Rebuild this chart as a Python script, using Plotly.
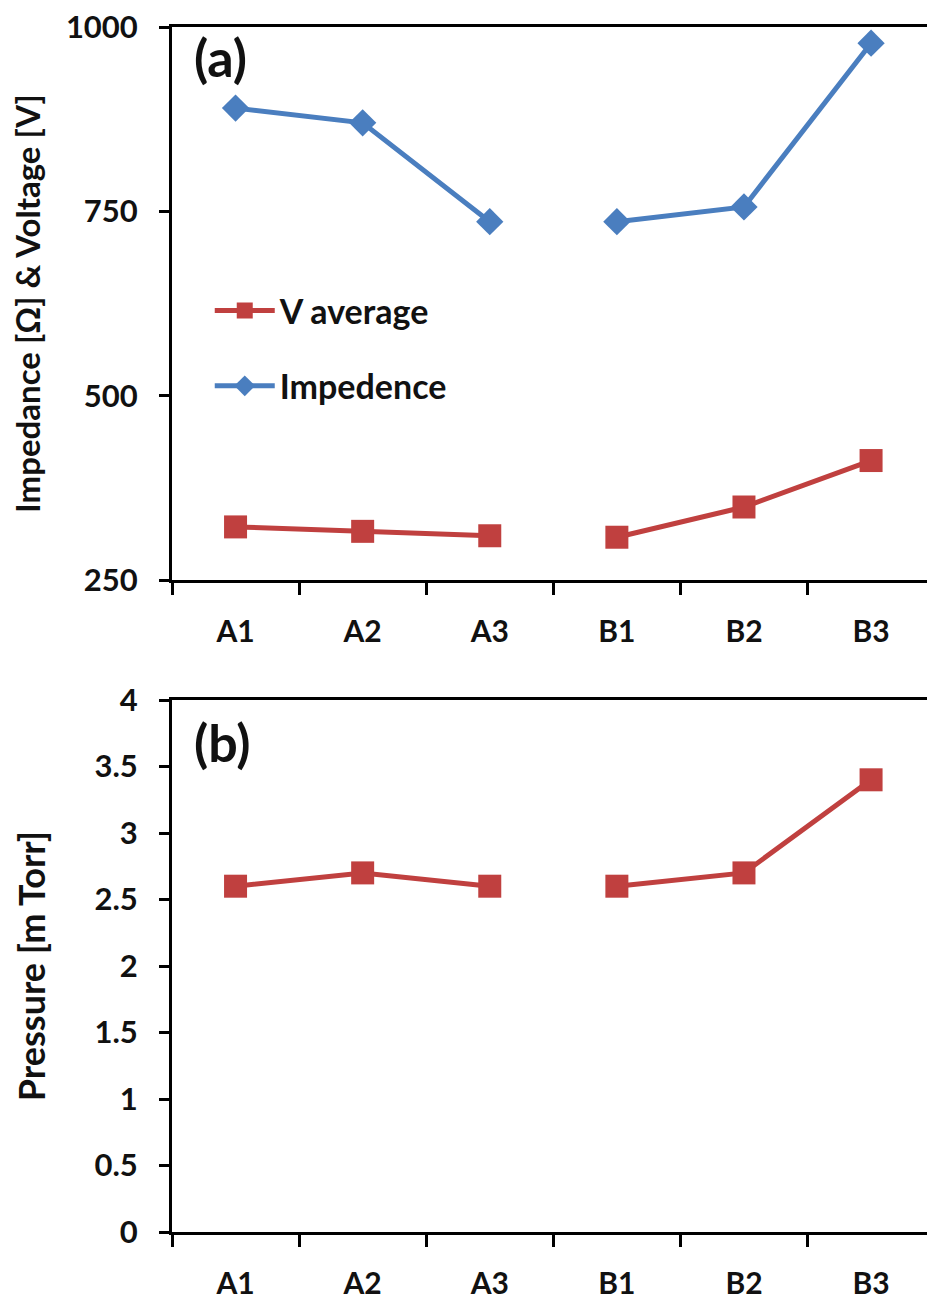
import plotly.graph_objects as go
from plotly.subplots import make_subplots

categories = ["A1", "A2", "A3", "B1", "B2", "B3"]
impedance = [890, 870, 736, 736, 756, 978]
v_average = [322, 316, 310, 308, 349, 412]
pressure = [2.6, 2.7, 2.6, 2.6, 2.7, 3.4]
groups = [slice(0, 3), slice(3, 6)]

RED = "#C0403F"
BLUE = "#4A7EBF"
FONT = "Lato"
INK = "#111111"

fig = make_subplots(rows=2, cols=1, vertical_spacing=0.0)

for gi, g in enumerate(groups):
    fig.add_trace(go.Scatter(
        x=categories[g], y=v_average[g], mode="lines+markers", name="V average",
        legendgroup="v", showlegend=(gi == 0),
        line=dict(color=RED, width=5),
        marker=dict(symbol="square", size=23, color=RED)), row=1, col=1)
for gi, g in enumerate(groups):
    fig.add_trace(go.Scatter(
        x=categories[g], y=impedance[g], mode="lines+markers", name="Impedence",
        legendgroup="i", showlegend=(gi == 0),
        line=dict(color=BLUE, width=5),
        marker=dict(symbol="diamond", size=21, color=BLUE)), row=1, col=1)
for gi, g in enumerate(groups):
    fig.add_trace(go.Scatter(
        x=categories[g], y=pressure[g], mode="lines+markers", name="Pressure",
        showlegend=False,
        line=dict(color=RED, width=5),
        marker=dict(symbol="square", size=23, color=RED)), row=2, col=1)

H = 1300.0
top_dom = [1 - 580 / H, 1 - 27 / H]
bot_dom = [1 - 1232 / H, 1 - 700 / H]

tickfont = dict(family=FONT, size=31, color=INK, weight="bold")
xtickfont = dict(family=FONT, size=30, color=INK, weight="bold")
xcommon = dict(type="category", categoryorder="array", categoryarray=categories,
               range=[-0.5, 5.44], tickson="boundaries", ticks="outside",
               ticklen=12, tickwidth=3, tickcolor="black", showline=True,
               linewidth=3, linecolor="black", mirror=True, showgrid=False,
               tickfont=xtickfont, ticklabelstandoff=23, zeroline=False,
               automargin=False)
ycommon = dict(ticks="outside", ticklen=10, tickwidth=3, tickcolor="black",
               showline=True, linewidth=3, linecolor="black", showgrid=False,
               zeroline=False, tickfont=tickfont, ticklabelstandoff=15,
               automargin=False)

fig.update_xaxes(**xcommon)
fig.update_yaxes(**ycommon)
fig.update_layout(
    xaxis=dict(domain=[0, 1], anchor="y"),
    xaxis2=dict(domain=[0, 1], anchor="y2"),
    yaxis=dict(domain=top_dom, range=[250, 1000], tickvals=[250, 500, 750, 1000],
               title=dict(text="Impedance [Ω] & Voltage [V]", standoff=16,
                          font=dict(family=FONT, size=33, color=INK, weight="bold"))),
    yaxis2=dict(domain=bot_dom, range=[0, 4], dtick=0.5, tick0=0,
                title=dict(text="Pressure [m Torr]", standoff=38,
                           font=dict(family=FONT, size=36, color=INK, weight="bold"))),
)

fig.add_annotation(text="(a)", xref="paper", yref="paper", x=0.026, y=1 - 57 / H,
                   xanchor="left", yanchor="middle", showarrow=False,
                   font=dict(family=FONT, size=52, color=INK, weight="bold"))
fig.add_annotation(text="(b)", xref="paper", yref="paper", x=0.026, y=1 - 742 / H,
                   xanchor="left", yanchor="middle", showarrow=False,
                   font=dict(family=FONT, size=52, color=INK, weight="bold"))

fig.update_layout(
    width=927, height=1300,
    margin=dict(l=172, r=0, t=0, b=0),
    paper_bgcolor="white", plot_bgcolor="white",
    showlegend=True,
    legend=dict(x=0.05, y=1 - 282 / H, xanchor="left", yanchor="top",
                bgcolor="rgba(0,0,0,0)", tracegroupgap=28,
                font=dict(family=FONT, size=34, color=INK, weight="bold"),
                itemwidth=60),
)

fig.write_html("out.html")
